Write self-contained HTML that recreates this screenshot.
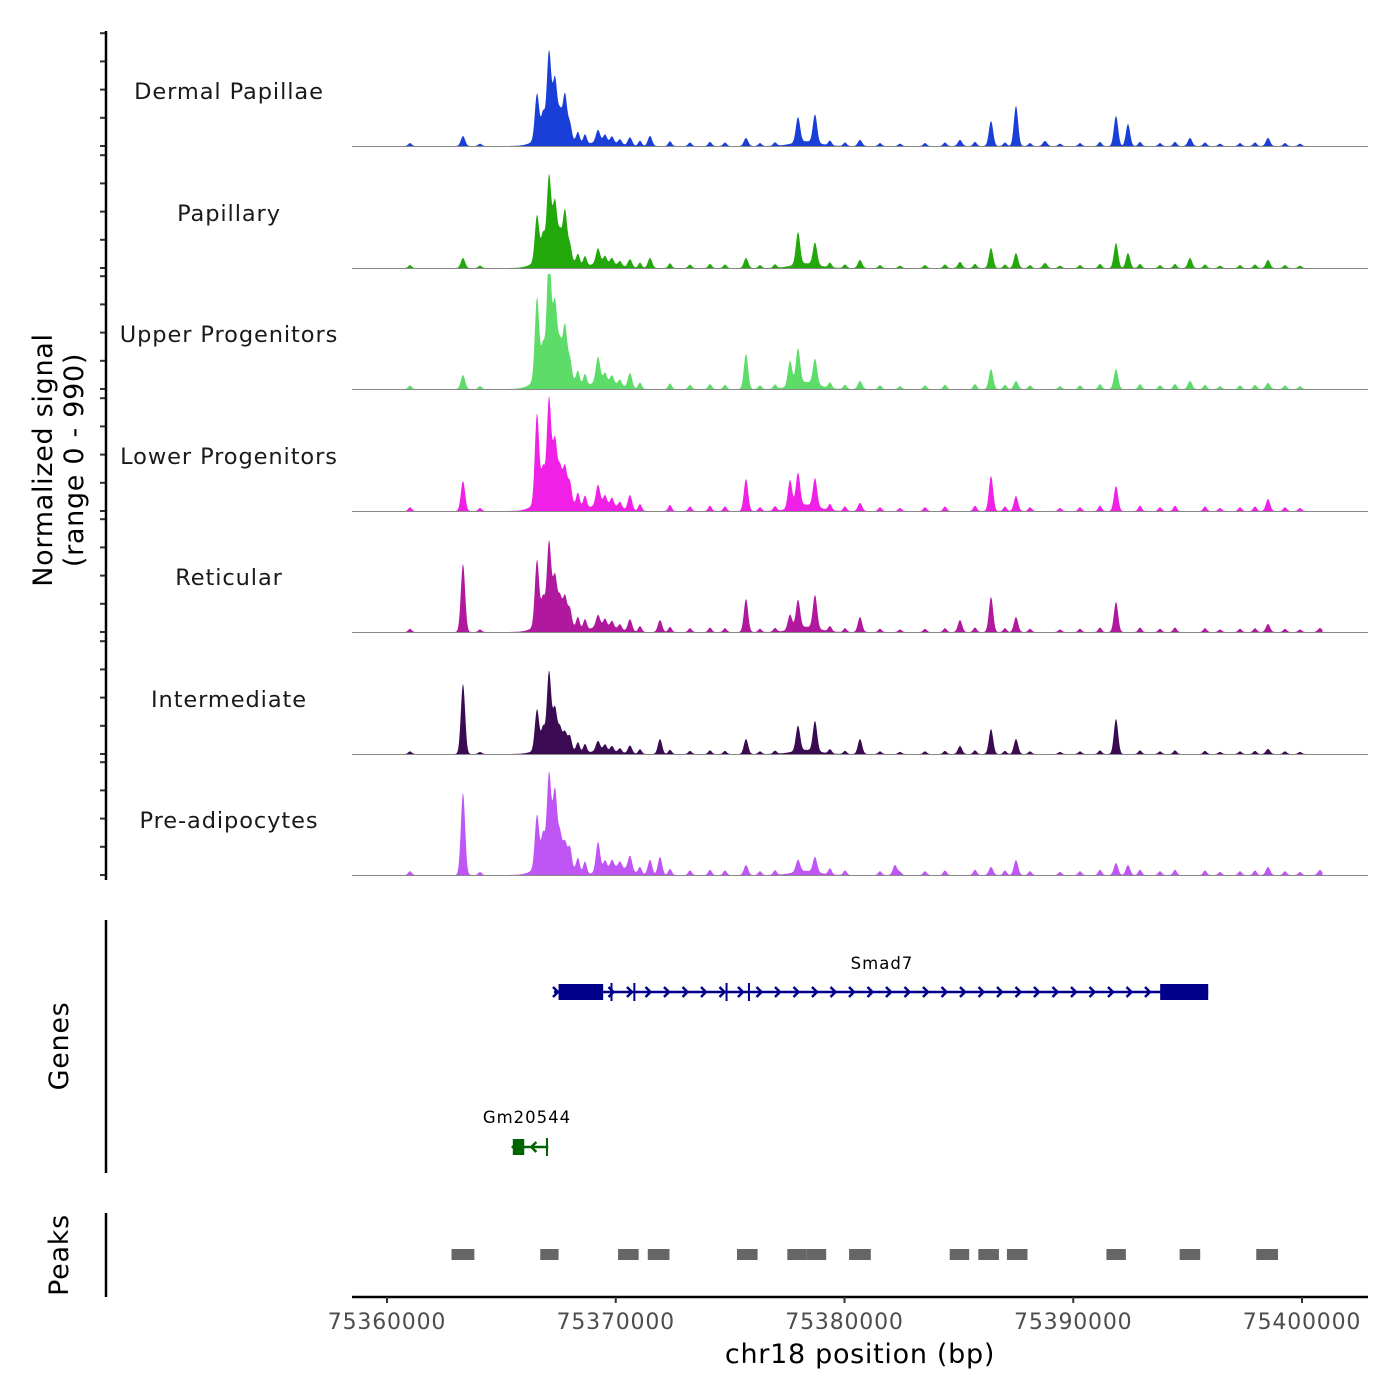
<!DOCTYPE html>
<html><head><meta charset="utf-8">
<style>
html,body{margin:0;padding:0;background:#fff;}
svg{display:block;font-family:"DejaVu Sans","Liberation Sans",sans-serif;}
</style></head>
<body>
<svg id="chart" width="1400" height="1400" viewBox="0 0 1400 1400" xmlns="http://www.w3.org/2000/svg">
  <g id="tracks"></g>
  <g id="axes"></g>
  <g id="genes"></g>
  <g id="peaks"></g>
</svg>
<script>
const trackNames = ["Dermal Papillae","Papillary","Upper Progenitors","Lower Progenitors","Reticular","Intermediate","Pre-adipocytes"];
const trackColors = ["#1a3fd9","#22a80a","#5ddc6a","#f020e6","#b0199e","#3a0a52","#bf55f5"];
// peak positions (bp) and normalized signal values (0-990) per track
const pkDermal = [[75363322,86],[75366557,387],[75367082,671],[75367344,430],[75367781,344],[75369224,103],[75370623,69],[75371497,86],[75375694,69],[75377967,215],[75378711,241],[75380678,52],[75385049,52],[75386405,215],[75387497,344],[75388765,43],[75391869,258],[75392393,189],[75395104,69],[75398514,69]];
const pkPapillary = [[75363322,86],[75366557,387],[75367082,645],[75367344,413],[75367781,387],[75369224,129],[75370623,69],[75371497,86],[75375694,86],[75377967,275],[75378711,189],[75380678,69],[75385049,52],[75386405,172],[75387497,129],[75388765,43],[75391869,215],[75392393,129],[75395104,86],[75398514,69]];
const pkUpper = [[75363322,120],[75366557,688],[75367082,946],[75367344,516],[75367781,387],[75369224,215],[75370623,129],[75375694,301],[75377617,215],[75377967,301],[75378711,215],[75380678,69],[75386405,172],[75387497,69],[75391869,172],[75395104,69],[75398514,52]];
const pkLower = [[75363322,258],[75366557,757],[75367082,791],[75367344,430],[75367781,258],[75369224,172],[75370623,129],[75375694,275],[75377617,241],[75377967,284],[75378711,241],[75380678,69],[75386405,301],[75387497,129],[75391869,215],[75398514,103]];
const pkReticular = [[75363322,585],[75366557,559],[75367082,645],[75367344,344],[75367781,215],[75369224,103],[75370623,103],[75371934,103],[75375694,284],[75377617,129],[75377967,241],[75378711,284],[75380678,129],[75385049,103],[75386405,301],[75387497,129],[75391869,258],[75398514,69],[75400787,34]];
const pkIntermediate = [[75363322,602],[75366557,344],[75367082,619],[75367344,301],[75367781,129],[75369224,86],[75370623,69],[75371934,129],[75375694,129],[75377967,215],[75378711,258],[75380678,129],[75385049,69],[75386405,215],[75387497,129],[75391869,301],[75398514,43]];
const pkPreadipo = [[75363322,705],[75366557,447],[75367082,714],[75367344,559],[75367781,172],[75369224,258],[75370623,129],[75371497,129],[75371934,155],[75375694,86],[75377967,103],[75378711,129],[75382208,86],[75386405,69],[75387497,129],[75391869,103],[75392393,86],[75398514,69],[75400787,43]];
const trackPeaks = [pkDermal,pkPapillary,pkUpper,pkLower,pkReticular,pkIntermediate,pkPreadipo];
// broad background accessibility around clusters
const baseDermal = [[75367300,160],[75369500,40],[75378300,40]];
const basePapillary = [[75367300,170],[75369500,45],[75378300,40]];
const baseUpper = [[75367300,250],[75369500,70],[75378300,60]];
const baseLower = [[75367300,200],[75369500,60],[75378300,55]];
const baseReticular = [[75367300,150],[75369500,50],[75378300,45]];
const baseIntermediate = [[75367300,100],[75369500,30],[75378300,35]];
const basePreadipo = [[75367300,180],[75370000,70],[75378300,35]];
const trackBases = [baseDermal,basePapillary,baseUpper,baseLower,baseReticular,baseIntermediate,basePreadipo];
// small background bumps shared by all tracks, scaled per track
const minorBumps = [[75361005,25],[75364066,20],[75366820,180],[75367563,150],[75367999,120],[75368349,90],[75368655,80],[75369530,60],[75369836,50],[75370186,40],[75371060,45],[75372372,40],[75373246,30],[75374120,35],[75374776,30],[75376306,25],[75376962,30],[75379366,40],[75380022,30],[75381552,25],[75382426,20],[75383519,25],[75384393,30],[75385705,35],[75387016,30],[75388109,25],[75389421,20],[75390295,25],[75391169,35],[75392918,35],[75393793,25],[75394448,35],[75395760,30],[75396416,20],[75397290,25],[75397946,30],[75399257,25],[75399913,20]];
const minorScale = [1,1,1.2,1.3,1.1,0.9,1.3];

const xTicks = [75360000,75370000,75380000,75390000,75400000];
const peakRegions = [[75362820,75363820],[75366700,75367500],[75370100,75371000],[75371400,75372350],[75375300,75376200],[75377500,75378350],[75378350,75379200],[75380200,75381150],[75384600,75385450],[75385850,75386750],[75387100,75388000],[75391450,75392300],[75394650,75395550],[75398000,75398950]];
const smadExons = [[75367500,75369450],[75369770,75369800],[75370770,75370800],[75374800,75374830],[75375780,75375810],[75393800,75395900]];
const smadSpan = [75367300,75395900];
const gmSpan = [75365500,75367050];
const gmExons = [[75365500,75366000],[75366950,75366980]];

const SVGNS="http://www.w3.org/2000/svg";
function mk(tag,attrs,parent){const e=document.createElementNS(SVGNS,tag);for(const k in attrs)e.setAttribute(k,attrs[k]);parent.appendChild(e);return e;}
const X0=352,X1=1368;
function xs(bp){return 387+(bp-75360000)*0.022875;}
const baselines=[146,268,389,511,632,754,875];
const trackH=115, maxSig=990;
function ys(v,b){return b-v/maxSig*trackH;}

const tracks=document.getElementById('tracks');
trackNames.forEach((name,i)=>{
  const g=mk('g',{},tracks);
  
  
  const b=baselines[i];
  const pts=[];
  const startX=xs(75360800), endX=xs(75400900);
  for(let x=startX;x<=endX;x+=0.5){
    let v=0;
    trackPeaks[i].forEach(p=>{const d=(x-xs(p[0]))/3.0;v+=p[1]*Math.exp(-d*d);});
    trackBases[i].forEach(p=>{const d=(x-xs(p[0]))/18;v+=p[1]*Math.exp(-d*d);});
    minorBumps.forEach(p=>{const d=(x-xs(p[0]))/2.5;v+=p[1]*minorScale[i]*Math.exp(-d*d);});
    v=Math.min(v,maxSig);
    pts.push(x.toFixed(1)+','+ys(v,b).toFixed(1));
  }
  const area=mk('polygon',{points:startX.toFixed(1)+','+b+' '+pts.join(' ')+' '+endX.toFixed(1)+','+b,fill:trackColors[i]},g);
  
  
  const bl=mk('line',{x1:X0,x2:X1,y1:b+0.5,y2:b+0.5,stroke:'#888','stroke-width':1},g);
  
  
  const t=mk('text',{x:229,y:b-47,'text-anchor':'middle','font-size':22.5,fill:'#1a1a1a','letter-spacing':'0.9'},g);
  t.textContent=name;
  
  
  for(let k=0;k<5;k++){
    const tk=mk('line',{x1:100,x2:106,y1:b-k*28.2,y2:b-k*28.2,stroke:'#333','stroke-width':2},g);
    
    
  }
});

const axes=document.getElementById('axes');
function line(p,a,name){const l=mk('line',a,p);return l;}
line(axes,{x1:106,x2:106,y1:31,y2:880,stroke:'#000','stroke-width':2.5},'y-axis-line');
line(axes,{x1:106,x2:106,y1:920,y2:1173,stroke:'#000','stroke-width':2.5},'genes-axis-line');
line(axes,{x1:106,x2:106,y1:1213,y2:1297,stroke:'#000','stroke-width':2.5},'peaks-axis-line');
line(axes,{x1:352,x2:1368,y1:1297,y2:1297,stroke:'#000','stroke-width':2.5},'x-axis-line');
xTicks.forEach(v=>{
  line(axes,{x1:xs(v),x2:xs(v),y1:1297,y2:1303,stroke:'#333','stroke-width':2},'x-tick');
  const t=mk('text',{x:xs(v),y:1329,'text-anchor':'middle','font-size':22,fill:'#4d4d4d','letter-spacing':'0.8'},axes);
  t.textContent=v;
  
  
});
let t=mk('text',{x:860,y:1363,'text-anchor':'middle','font-size':27,fill:'#000','letter-spacing':'0.7'},axes);
t.textContent='chr18 position (bp)';


t=mk('text',{transform:'translate(52,460) rotate(-90)','text-anchor':'middle','font-size':27,fill:'#000','letter-spacing':'0.7'},axes);
t.innerHTML='<tspan x="0" dy="0">Normalized signal</tspan><tspan x="0" dy="31">(range 0 - 990)</tspan>';


t=mk('text',{transform:'translate(68,1046) rotate(-90)','text-anchor':'middle','font-size':27,fill:'#000','letter-spacing':'0.7'},axes);
t.textContent='Genes';


t=mk('text',{transform:'translate(68,1255) rotate(-90)','text-anchor':'middle','font-size':27,fill:'#000','letter-spacing':'0.7'},axes);
t.textContent='Peaks';



// genes
const genes=document.getElementById('genes');
function drawGene(name,span,exons,y,color,dir,labelX,labelY){
  const g=mk('g',{},genes);
  
  
  const l=mk('line',{x1:xs(span[0]),x2:xs(span[1]),y1:y,y2:y,stroke:color,'stroke-width':2.5},g);
  
  
  const x0=xs(span[0]),x1=xs(span[1]);
  for(let x=x0+2;x<x1;x+=18.5){
    const c=mk('path',{d:dir>0?`M${x-3},${y-5} L${x+2},${y} L${x-3},${y+5}`:`M${x+3},${y-5} L${x-2},${y} L${x+3},${y+5}`,stroke:color,'stroke-width':2.5,fill:'none'},g);
    
    
  }
  exons.forEach(e=>{
    const w=Math.max(xs(e[1])-xs(e[0]),2);
    const r=mk('rect',{x:xs(e[0]),y:y-(w>5?8:9),width:w,height:w>5?16:18,fill:color},g);
    
    
  });
  const tx=mk('text',{x:labelX,y:labelY,'text-anchor':'middle','font-size':16.5,fill:'#000','letter-spacing':'1'},g);
  tx.textContent=name;
  
  
}
drawGene('Smad7',smadSpan,smadExons,992,'#00008b',1,882,969);
drawGene('Gm20544',gmSpan,gmExons,1147,'#006400',-1,527,1123);

// peaks
const peaks=document.getElementById('peaks');
peakRegions.forEach(p=>{
  const r=mk('rect',{x:xs(p[0]),y:1249,width:xs(p[1])-xs(p[0]),height:11,fill:'#666'},peaks);
  
  
});
</script>
</body></html>
